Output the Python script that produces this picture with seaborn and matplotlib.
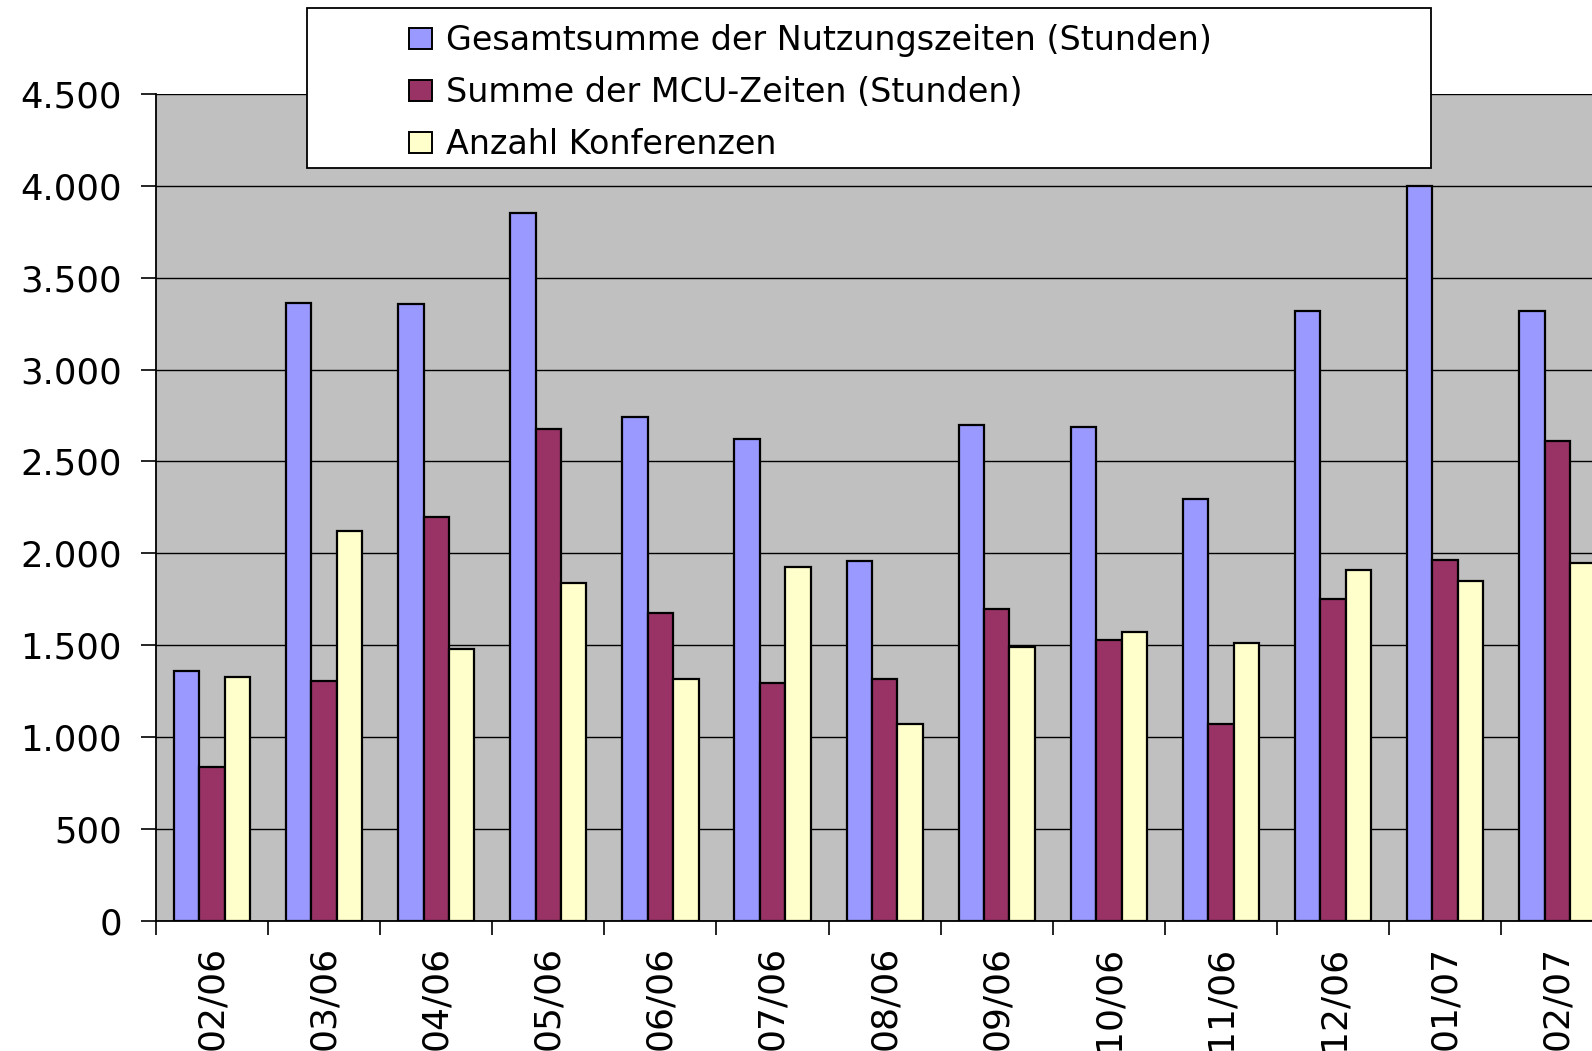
import numpy as np
import pandas as pd
import matplotlib
matplotlib.use("Agg")
import matplotlib.pyplot as plt
import seaborn as sns
from matplotlib.patches import Rectangle, Patch
from matplotlib.ticker import FuncFormatter, MultipleLocator

# ---- data ----
months = ["02/06", "03/06", "04/06", "05/06", "06/06", "07/06", "08/06",
          "09/06", "10/06", "11/06", "12/06", "01/07", "02/07"]
gesamt = [1358, 3363, 3357, 3854, 2744, 2623, 1960, 2700, 2689, 2297, 3318, 3998, 3318]
mcu = [834, 1303, 2198, 2678, 1673, 1292, 1314, 1695, 1529, 1071, 1750, 1966, 2612]
konf = [1325, 2120, 1480, 1839, 1314, 1927, 1071, 1491, 1574, 1513, 1910, 1850, 1949]
series = ["Gesamtsumme der Nutzungszeiten (Stunden)",
          "Summe der MCU-Zeiten (Stunden)",
          "Anzahl Konferenzen"]
colors = ["#9999FF", "#993366", "#FFFFCC"]

df = pd.DataFrame({
    "Monat": months * 3,
    "Wert": gesamt + mcu + konf,
    "Serie": [series[0]] * len(months) + [series[1]] * len(months) + [series[2]] * len(months),
})

sns.set_style("white")
plt.rcParams['font.family'] = ['DejaVu Sans']
plt.rcParams['text.color'] = 'black'
plt.rcParams['xtick.color'] = 'black'
plt.rcParams['ytick.color'] = 'black'
plt.rcParams['axes.labelcolor'] = 'black'

W, H = 1592, 1051
fig = plt.figure(figsize=(W / 100, H / 100), dpi=100)
ax = fig.add_axes([156 / W, 1 - 920.7 / H, 13 * 112.1 / W, (920.7 - 94) / H])

sns.barplot(data=df, x="Monat", y="Wert", hue="Serie", order=months,
            hue_order=series, palette=colors, width=0.68, saturation=1,
            edgecolor="black", linewidth=1.6, legend=False, ax=ax)

ax.set_facecolor("#C0C0C0")
ax.set_xlim(-0.5, 12.5)
ax.set_ylim(0, 4500)
ax.yaxis.set_major_locator(MultipleLocator(500))
ax.yaxis.set_major_formatter(FuncFormatter(lambda v, p: f"{int(round(v)):,}".replace(",", ".")))
ax.grid(axis="y", color="black", linewidth=1.0)
ax.grid(axis="x", visible=False)
ax.set_axisbelow(True)
for s in ["top", "right"]:
    ax.spines[s].set_visible(False)
for s in ["left", "bottom"]:
    ax.spines[s].set_color("black")
    ax.spines[s].set_linewidth(1.3)
ax.set_xlabel("")
ax.set_ylabel("")

ax.tick_params(axis="y", left=True, direction="out", length=11, width=1.2,
               pad=13.5, labelsize=25.5, colors="black")
ax.set_xticks(range(len(months)))
ax.set_xticklabels(months, rotation=90, fontsize=26, color="black")
ax.tick_params(axis="x", which="major", bottom=True, length=0, pad=18, labelcolor="black")
ax.set_xticks(np.arange(-0.5, len(months), 1), minor=True)
ax.tick_params(axis="x", which="minor", bottom=True, direction="out",
               length=10, width=1.2, color="black")

# legend box
fig.add_artist(Rectangle((307 / W, 1 - 168 / H), (1431 - 307) / W, 160 / H,
                         transform=fig.transFigure, facecolor="white",
                         edgecolor="black", linewidth=1.3, zorder=3))
handles = [Patch(facecolor=c, edgecolor="black", linewidth=1.4) for c in colors]
leg = fig.legend(handles, series, loc="upper left", bbox_to_anchor=(409 / W, 1 - 24 / H),
                 frameon=False, fontsize=24, handlelength=0.7, handleheight=0.6,
                 handletextpad=0.4, labelspacing=0.57, borderpad=0, borderaxespad=0)
for t in leg.get_texts():
    t.set_color("black")

fig.savefig("out.png", dpi=100)
